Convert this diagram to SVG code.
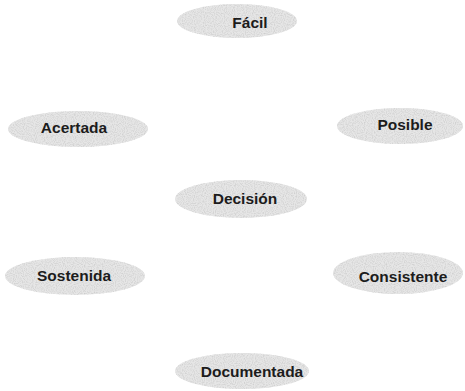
<svg xmlns="http://www.w3.org/2000/svg" width="465" height="391" viewBox="0 0 465 391">
<defs>
<filter id="stip" x="0" y="0" width="100%" height="100%">
<feTurbulence type="fractalNoise" baseFrequency="0.9" numOctaves="1" seed="3" result="t"/>
<feColorMatrix in="t" type="matrix" values="0 0 0 0 0.6  0 0 0 0 0.6  0 0 0 0 0.6  2.2 0 0 0 -0.9" result="dots"/>
<feComposite in="dots" in2="SourceGraphic" operator="in" result="d"/>
<feMerge><feMergeNode in="SourceGraphic"/><feMergeNode in="d"/></feMerge>
</filter>
</defs>
<style>
.n ellipse{fill:#e6e6e6;stroke:none;filter:url(#stip)}
.n text{font-family:"Liberation Sans",Arial,sans-serif;font-weight:bold;font-size:15.5px;fill:#1c1c1c;text-anchor:middle}
</style>
<rect width="465" height="391" fill="#ffffff"/>
<g id="connectors"/>
<g id="facil" class="n"><ellipse cx="237" cy="21" rx="60" ry="17"/><text x="250" y="28">Fácil</text></g>
<g id="acertada" class="n"><ellipse cx="78" cy="129" rx="70" ry="18"/><text x="74" y="133">Acertada</text></g>
<g id="posible" class="n"><ellipse cx="400" cy="126" rx="63" ry="18"/><text x="405" y="130">Posible</text></g>
<g id="decision" class="n"><ellipse cx="241" cy="199" rx="66" ry="19"/><text x="245" y="204">Decisión</text></g>
<g id="sostenida" class="n"><ellipse cx="75" cy="276" rx="70" ry="19"/><text x="74" y="281">Sostenida</text></g>
<g id="consistente" class="n"><ellipse cx="398" cy="273" rx="65" ry="21"/><text x="403" y="282">Consistente</text></g>
<g id="documentada" class="n"><ellipse cx="242" cy="371" rx="67" ry="18"/><text x="252" y="377">Documentada</text></g>
</svg>
